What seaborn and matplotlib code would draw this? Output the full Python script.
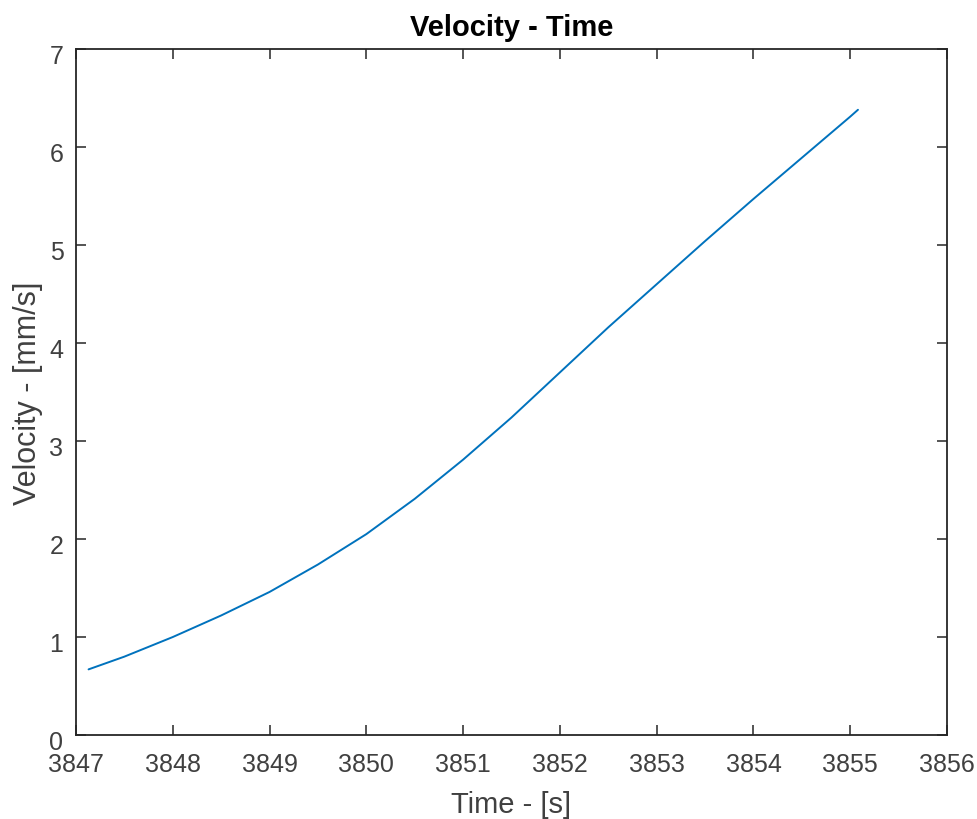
import matplotlib
matplotlib.use("Agg")
import matplotlib.pyplot as plt
import matplotlib.transforms as mtransforms
import seaborn as sns
import pandas as pd

time_s = [3847.13, 3847.5, 3848.0, 3848.5, 3849.0, 3849.5, 3850.0, 3850.5,
          3851.0, 3851.5, 3852.0, 3852.5, 3853.0, 3853.5, 3854.0,
          3854.5, 3855.0, 3855.08]
velocity = [0.67, 0.80, 1.00, 1.22, 1.46, 1.74, 2.05, 2.41,
            2.81, 3.24, 3.70, 4.16, 4.60, 5.04, 5.47,
            5.89, 6.31, 6.38]
x_ticks = list(range(3847, 3857))
y_ticks = list(range(0, 8))

sns.set_theme(style="ticks")
plt.rcParams['font.family'] = ['Liberation Sans', 'DejaVu Sans']

df = pd.DataFrame({"t": time_s, "v": velocity})

fig = plt.figure(figsize=(9.78, 8.2), dpi=100)
ax = fig.add_axes([0.0777, 0.1024, 0.8906, 0.8366])
sns.lineplot(data=df, x="t", y="v", ax=ax, color="#0072BD", linewidth=1.4,
             estimator=None, sort=False)

ax.set_xlim(3847, 3856)
ax.set_ylim(0, 7)
ax.set_xticks(x_ticks)
ax.set_yticks(y_ticks)
ax.set_xticklabels([str(t) for t in x_ticks])
ax.set_yticklabels([str(t) for t in y_ticks])

dark = "#262626"
for s in ax.spines.values():
    s.set_visible(True)
    s.set_color(dark)
    s.set_linewidth(1.3)
ax.tick_params(direction="in", length=7, width=1.1, colors=dark,
               labelsize=18, top=True, right=True)
ax.tick_params(axis="x", pad=12)
ax.tick_params(axis="y", pad=9)
shift = mtransforms.ScaledTranslation(0, -4 / 100, fig.dpi_scale_trans)
for lab in ax.get_yticklabels():
    lab.set_transform(lab.get_transform() + shift)
for lab in ax.get_xticklabels() + ax.get_yticklabels():
    lab.set_color("#404040")

ax.set_xlabel("Time - [s]", fontsize=21, color="#404040", labelpad=10)
ax.set_ylabel("Velocity - [mm/s]", fontsize=22, color="#404040", labelpad=5)
ax.set_title("Velocity - Time", fontsize=21, fontweight="bold", color="black", pad=10)

fig.savefig("out.png", dpi=100)
